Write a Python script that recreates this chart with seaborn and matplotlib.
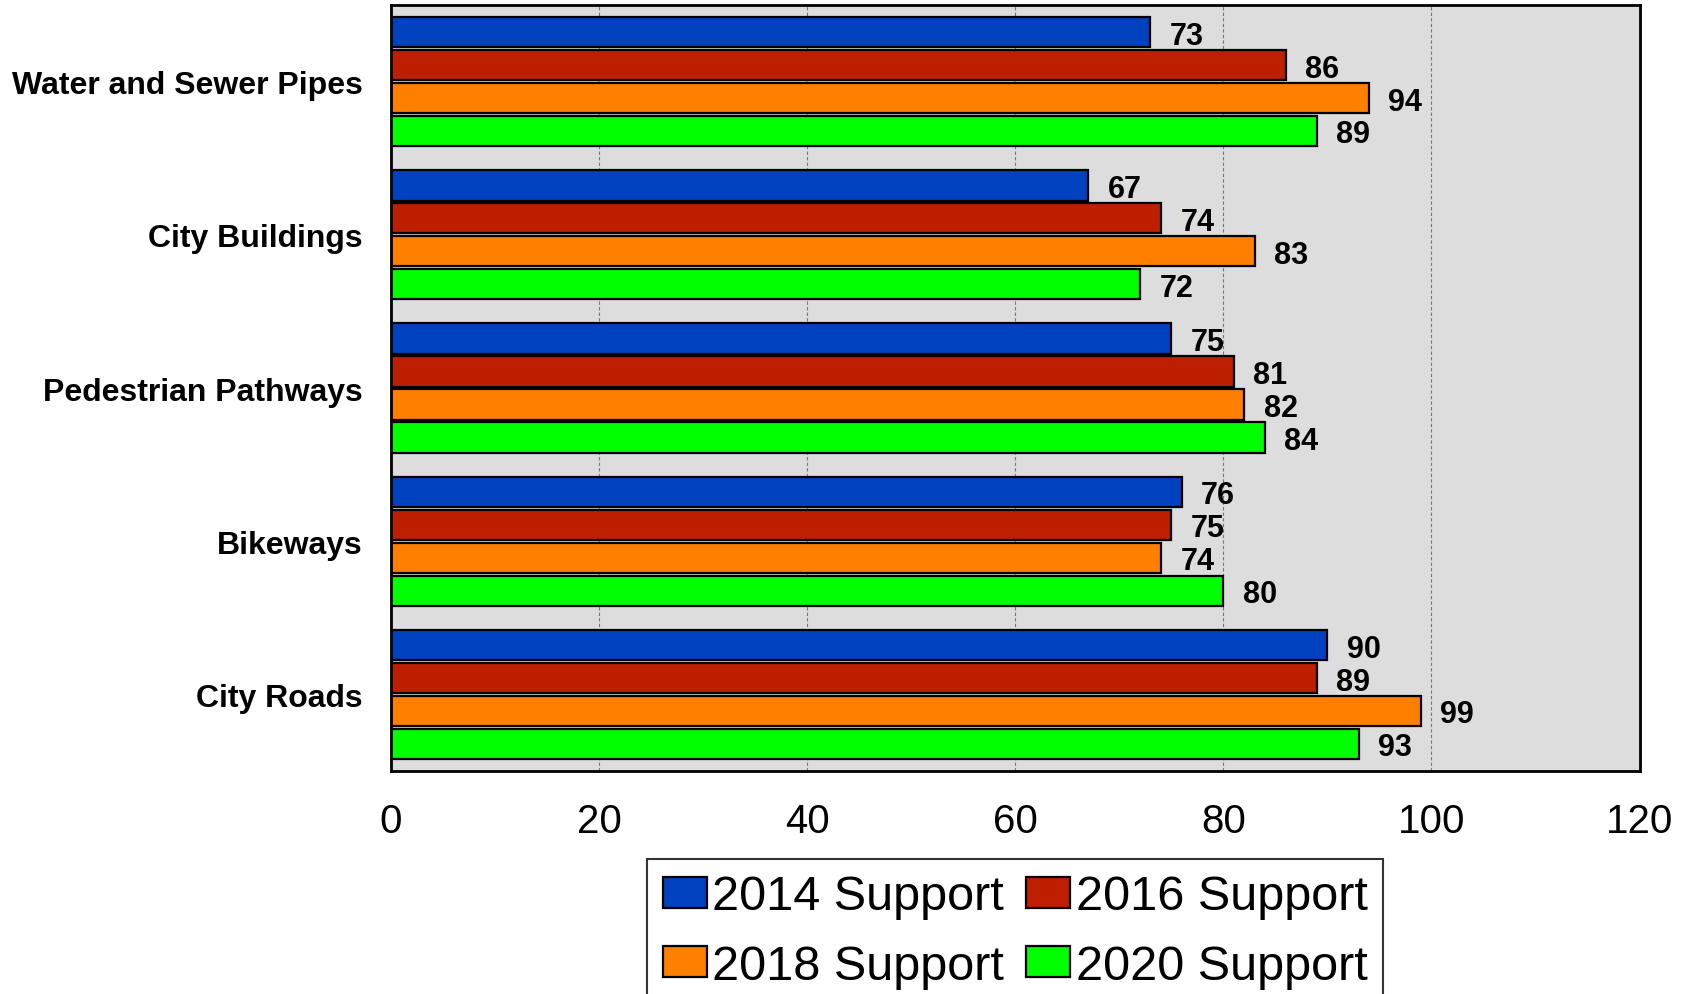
import pandas as pd
import matplotlib
matplotlib.use("Agg")
import matplotlib.pyplot as plt
import seaborn as sns

# data
categories = ["Water and Sewer Pipes", "City Buildings", "Pedestrian Pathways", "Bikeways", "City Roads"]
years = ["2014 Support", "2016 Support", "2018 Support", "2020 Support"]
support_2014 = [73, 67, 75, 76, 90]
support_2016 = [86, 74, 81, 75, 89]
support_2018 = [94, 83, 82, 74, 99]
support_2020 = [89, 72, 84, 80, 93]
xticks = [0, 20, 40, 60, 80, 100, 120]

colors = ["#0041BF", "#BD1F00", "#FF8000", "#00FF00"]

rows = []
for year, vals in zip(years, [support_2014, support_2016, support_2018, support_2020]):
    for cat, v in zip(categories, vals):
        rows.append({"Category": cat, "Year": year, "Support": v})
df = pd.DataFrame(rows)

sns.set_style("white")
plt.rcParams["font.family"] = ["Liberation Sans", "DejaVu Sans"]
plt.rcParams["text.color"] = "black"
plt.rcParams["xtick.color"] = "black"
plt.rcParams["ytick.color"] = "black"

fig = plt.figure(figsize=(16.92, 9.95), dpi=100)
ax = fig.add_axes([0.231, 0.224, 0.738, 0.770])
ax.set_facecolor("#DDDDDD")

sns.barplot(data=df, y="Category", x="Support", hue="Year", order=categories,
            hue_order=years, palette=colors, orient="h", width=0.86, gap=0.08,
            edgecolor="black", linewidth=1.6, saturation=1, ax=ax)

for c in ax.containers:
    labels = ax.bar_label(c, padding=14, fontsize=22, fontweight="bold", color="black")
    for t in labels:
        t.xyann = (14, -2.5)  # labels sit a touch below bar centre

ax.set_xlim(0, 120)
ax.set_xticks(xticks)
ax.set_xticklabels([str(t) for t in xticks], fontsize=29)
ax.tick_params(axis="x", length=0, pad=22)
ax.tick_params(axis="y", length=0, pad=20)
for lbl in ax.get_yticklabels():
    lbl.set_fontsize(23)
    lbl.set_fontweight("bold")
ax.set_xlabel("")
ax.set_ylabel("")

for x in xticks[1:-1]:
    ax.axvline(x, color="#777777", linestyle=(0, (3, 2)), linewidth=0.8, zorder=0.5)
ax.set_axisbelow(True)

for s in ax.spines.values():
    s.set_visible(True)
    s.set_color("black")
    s.set_linewidth(2)

handles, labels = ax.get_legend_handles_labels()
ax.legend_.remove()
# legend fills row by row in the reference: 2014, 2016 / 2018, 2020
idx = [0, 2, 1, 3]
leg = fig.legend([handles[i] for i in idx], [labels[i] for i in idx],
                 loc="upper center", bbox_to_anchor=(0.600, 0.136),
                 ncol=2, fontsize=35, frameon=True, fancybox=False, edgecolor="black",
                 handlelength=0.9, handleheight=0.6, handletextpad=0.12,
                 columnspacing=0.45, borderpad=0.32, labelspacing=0.5,
                 borderaxespad=0)
leg.get_frame().set_linewidth(1.5)

fig.savefig("out.png", dpi=100)
